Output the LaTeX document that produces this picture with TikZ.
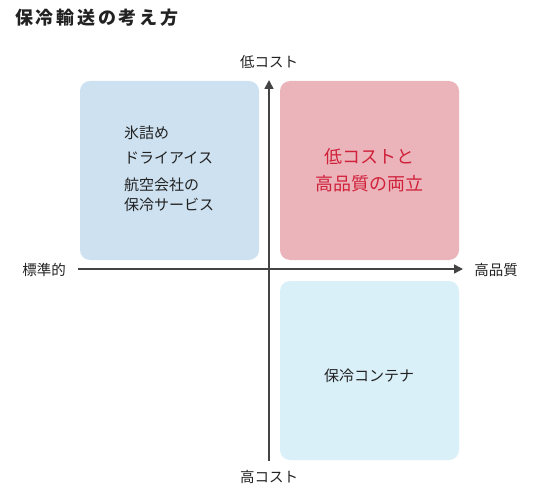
\documentclass[tikz,border=0pt]{standalone}
\usepackage{fontspec}
\setmainfont{Noto Sans CJK JP}
\usetikzlibrary{arrows.meta}
\definecolor{qblue}{HTML}{CDE1F0}
\definecolor{qpink}{HTML}{EBB4BA}
\definecolor{qcyan}{HTML}{DAF0F8}
\definecolor{qred}{HTML}{D0213A}
\definecolor{axisgray}{HTML}{444444}
\definecolor{txt}{HTML}{222222}
\begin{document}
\begin{tikzpicture}[x=1pt,y=-1pt,
  quad/.style={rounded corners=10pt},
  axis/.style={draw=axisgray,line width=1.6pt,-{Triangle[length=9pt,width=9pt]}},
  lab/.style={font=\fontsize{14.5}{16}\selectfont,text=txt,inner sep=0pt},
  boxtxt/.style={font=\fontsize{15}{17}\selectfont,text=txt,inner sep=0pt,anchor=west},
  redtxt/.style={font=\fontsize{18}{27}\selectfont,text=qred,inner sep=0pt,align=center}]
\useasboundingbox (0,0) rectangle (540,500);
\fill[qblue,quad] (80,81) rectangle (259,260);
\fill[qpink,quad] (280,81) rectangle (459,260);
\fill[qcyan,quad] (280,281) rectangle (459,460);
\coordinate (vb) at (269,461);
\coordinate (vt) at (269,80);
\coordinate (hl) at (78,269);
\coordinate (hr) at (463,269);
\draw[axis] (vb) -- (vt);
\draw[axis] (hl) -- (hr);
\node[font=\fontsize{18}{20}\selectfont\bfseries\addfontfeatures{LetterSpace=15},text=txt,anchor=west,inner sep=0pt] (title) at (15,18) {保冷輸送の考え方};
\node[lab] (lowcost) at (269,62) {低コスト};
\node[lab] (highcost) at (269,477) {高コスト};
\node[lab] (std) at (44,270) {標準的};
\node[lab] (hq) at (496,270) {高品質};
\node[boxtxt] (t1) at (124,133) {氷詰め};
\node[boxtxt] (t2) at (124,158) {ドライアイス};
\node[boxtxt] (t3) at (124,185) {航空会社の};
\node[boxtxt] (t4) at (124,205) {保冷サービス};
\node[redtxt] (red) at (369,170) {低コストと\\高品質の両立};
\node[lab,font=\fontsize{15}{17}\selectfont] (cont) at (369,376) {保冷コンテナ};
\end{tikzpicture}
\end{document}
